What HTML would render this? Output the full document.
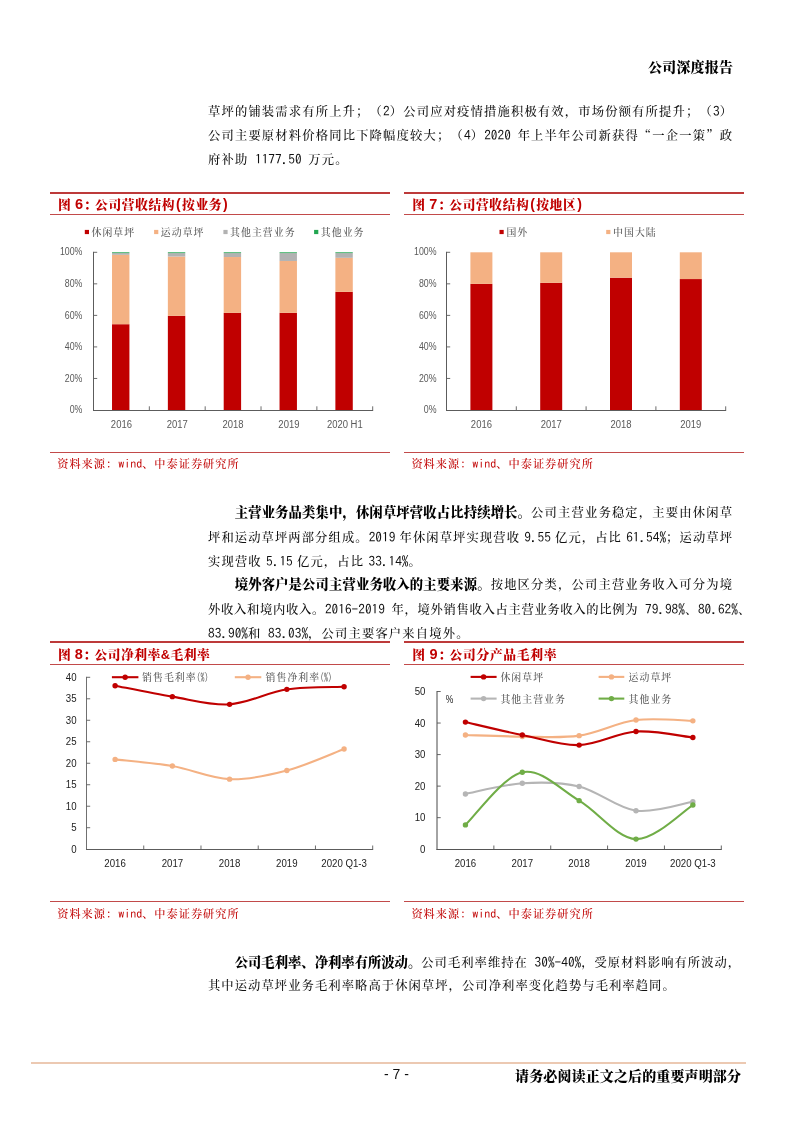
<!DOCTYPE html>
<html lang="zh-CN"><head><meta charset="utf-8"><title>公司深度报告</title>
<style>
html,body{margin:0;padding:0;background:#fff;}
body{width:793px;height:1122px;position:relative;overflow:hidden;font-family:"Liberation Serif", "Noto Serif CJK SC", serif;color:#1a1a1a;}
.n{font-family:"IPAGothic", "Liberation Mono", monospace;font-size:13.33px;letter-spacing:0;}
.c{font-family:"Noto Serif CJK SC",serif;}
.l{position:absolute;left:208px;width:525px;height:24px;line-height:24px;font-size:12.3px;letter-spacing:1.03px;white-space:nowrap;text-align:justify;text-align-last:justify;font-weight:500;color:#111;text-spacing-trim:space-all;}
.l.s{text-align:left;text-align-last:left;width:auto;letter-spacing:1.16px;}
.l b{font-family:"Liberation Sans", "Noto Serif CJK SC", serif;font-weight:900;color:#000;font-size:13.33px;letter-spacing:0;}
.hdr{position:absolute;left:648px;width:85px;top:57px;height:20px;line-height:20px;font-size:14px;font-weight:900;font-family:"Liberation Sans", "Noto Serif CJK SC", serif;color:#000;white-space:nowrap;text-align:justify;text-align-last:justify;}
.rule{position:absolute;background:#c23337;}
.ft{position:absolute;text-align:justify;text-align-last:justify;font-weight:900;font-family:"Liberation Sans", "Noto Serif CJK SC", serif;color:#c00000;font-size:12.8px;line-height:20px;height:20px;white-space:nowrap;}
.ft{word-spacing:-0.5px;}
.ft .q{margin-right:-2px;}
.ft .d{font-size:14.5px;line-height:1;}
.ft .p{font-size:14px;line-height:1;margin:0 0.8px;}
.src{position:absolute;color:#c00000;font-size:11.2px;font-weight:500;line-height:18px;height:18px;white-space:nowrap;letter-spacing:1px;}
.src .n{font-size:12px;letter-spacing:0;}
.foot{position:absolute;left:515px;width:226px;top:1066px;height:20px;line-height:20px;font-size:14px;font-weight:900;font-family:"Liberation Sans", "Noto Serif CJK SC", serif;color:#000;white-space:nowrap;text-align:justify;text-align-last:justify;}
.pg{position:absolute;left:375.5px;width:42px;top:1065px;height:18px;line-height:18px;font-size:14px;font-family:"Liberation Sans", sans-serif;color:#111;text-align:center;white-space:nowrap;}
svg{position:absolute;left:0;top:0;}
svg text{font-family:"Liberation Sans", sans-serif;}
svg text.k{font-family:"Liberation Serif", "Noto Serif CJK SC", serif;letter-spacing:1.05px;font-weight:500;}
svg text.k tspan{letter-spacing:0;}
</style></head>
<body>
<div class="hdr">公司深度报告</div>
<div class="l" style="top:98.5px;">草坪的铺装需求有所上升；（<span class="n">2</span>）公司应对疫情措施积极有效，市场份额有所提升；（<span class="n">3</span>）</div>
<div class="l" style="top:122.5px;">公司主要原材料价格同比下降幅度较大；（<span class="n">4</span>）<span class="n">2020 </span>年上半年公司新获得<span class="c">“</span>一企一策<span class="c">”</span>政</div>
<div class="l s" style="top:146.5px;">府补助<span class="n"> 1177.50 </span>万元。</div>
<div class="l" style="top:500.5px;left:234.7px;width:498.3px;"><b>主营业务品类集中，休闲草坪营收占比持续增长。</b>公司主营业务稳定，主要由休闲草</div>
<div class="l" style="top:524.5px;">坪和运动草坪两部分组成。<span class="n">2019</span> 年休闲草坪实现营收 <span class="n">9.55</span> 亿元，占比 <span class="n">61.54%</span>；运动草坪</div>
<div class="l s" style="top:548.5px;">实现营收 <span class="n">5.15</span> 亿元，占比 <span class="n">33.14%</span>。</div>
<div class="l" style="top:572.5px;left:234.7px;width:498.3px;"><b>境外客户是公司主营业务收入的主要来源。</b>按地区分类，公司主营业务收入可分为境</div>
<div class="l" style="top:596.5px;width:538px;text-align-last:left;letter-spacing:0.69px;">外收入和境内收入。<span class="n">2016-2019 </span>年，境外销售收入占主营业务收入的比例为<span class="n"> 79.98%</span>、<span class="n">80.62%</span>、</div>
<div class="l s" style="top:620.5px;"><span class="n">83.90%</span>和<span class="n"> 83.03%</span>，公司主要客户来自境外。</div>
<div class="l" style="top:950.0px;left:234.7px;width:498.3px;"><b>公司毛利率、净利率有所波动。</b>公司毛利率维持在<span class="n"> 30%-40%</span>，受原材料影响有所波动，</div>
<div class="l s" style="top:974.0px;letter-spacing:1.07px;">其中运动草坪业务毛利率略高于休闲草坪，公司净利率变化趋势与毛利率趋同。</div>
<div class="rule" style="left:50.0px;width:339.6px;top:192px;height:2px;background:#bd3a3a;"></div>
<div class="rule" style="left:50.0px;width:339.6px;top:214px;height:1px;background:#c24a4a;"></div>
<div class="ft" style="left:58.1px;top:194.5px;width:170.3px;">图 <span class="d">6</span><span class="q">：</span>公司营收结构<span class="p">(</span>按业务<span class="p">)</span></div>
<div class="rule" style="left:50.0px;width:339.6px;top:452px;height:1px;background:#c24a4a;"></div>
<div class="src" style="left:57.2px;top:453.9px;">资料来源：<span class="n">wind</span>、中泰证券研究所</div>
<div class="rule" style="left:404.2px;width:339.6px;top:192px;height:2px;background:#bd3a3a;"></div>
<div class="rule" style="left:404.2px;width:339.6px;top:214px;height:1px;background:#c24a4a;"></div>
<div class="ft" style="left:412.3px;top:194.5px;width:170.3px;">图 <span class="d">7</span><span class="q">：</span>公司营收结构<span class="p">(</span>按地区<span class="p">)</span></div>
<div class="rule" style="left:404.2px;width:339.6px;top:452px;height:1px;background:#c24a4a;"></div>
<div class="src" style="left:411.4px;top:453.9px;">资料来源：<span class="n">wind</span>、中泰证券研究所</div>
<div class="rule" style="left:50.0px;width:339.6px;top:641px;height:2px;background:#bd3a3a;"></div>
<div class="rule" style="left:50.0px;width:339.6px;top:664px;height:1px;background:#c24a4a;"></div>
<div class="ft" style="left:58.1px;top:644.5px;width:151.6px;">图 <span class="d">8</span><span class="q">：</span>公司净利率&amp;毛利率</div>
<div class="rule" style="left:50.0px;width:339.6px;top:901px;height:1px;background:#c24a4a;"></div>
<div class="src" style="left:57.2px;top:903.9px;">资料来源：<span class="n">wind</span>、中泰证券研究所</div>
<div class="rule" style="left:404.2px;width:339.6px;top:641px;height:2px;background:#bd3a3a;"></div>
<div class="rule" style="left:404.2px;width:339.6px;top:664px;height:1px;background:#c24a4a;"></div>
<div class="ft" style="left:412.3px;top:644.5px;width:144.2px;">图 <span class="d">9</span><span class="q">：</span>公司分产品毛利率</div>
<div class="rule" style="left:404.2px;width:339.6px;top:901px;height:1px;background:#c24a4a;"></div>
<div class="src" style="left:411.4px;top:903.9px;">资料来源：<span class="n">wind</span>、中泰证券研究所</div>
<svg width="793" height="1122" viewBox="0 0 793 1122">
<rect x="112.02" y="324.21" width="17.40" height="85.79" fill="#c00000"/>
<rect x="112.02" y="254.82" width="17.40" height="69.39" fill="#f4b183"/>
<rect x="112.02" y="253.09" width="17.40" height="1.73" fill="#b2b2b2"/>
<rect x="112.02" y="252.30" width="17.40" height="0.79" fill="#22a651"/>
<text transform="translate(121.4,427.5) scale(0.93,1)" font-size="10.2" fill="#595959" text-anchor="middle">2016</text>
<rect x="167.86" y="315.85" width="17.40" height="94.15" fill="#c00000"/>
<rect x="167.86" y="256.56" width="17.40" height="59.30" fill="#f4b183"/>
<rect x="167.86" y="253.09" width="17.40" height="3.47" fill="#b2b2b2"/>
<rect x="167.86" y="252.30" width="17.40" height="0.79" fill="#22a651"/>
<text transform="translate(177.3,427.5) scale(0.93,1)" font-size="10.2" fill="#595959" text-anchor="middle">2017</text>
<rect x="223.70" y="312.86" width="17.40" height="97.14" fill="#c00000"/>
<rect x="223.70" y="257.03" width="17.40" height="55.83" fill="#f4b183"/>
<rect x="223.70" y="253.09" width="17.40" height="3.94" fill="#b2b2b2"/>
<rect x="223.70" y="252.30" width="17.40" height="0.79" fill="#22a651"/>
<text transform="translate(233.1,427.5) scale(0.93,1)" font-size="10.2" fill="#595959" text-anchor="middle">2018</text>
<rect x="279.54" y="312.86" width="17.40" height="97.14" fill="#c00000"/>
<rect x="279.54" y="260.97" width="17.40" height="51.88" fill="#f4b183"/>
<rect x="279.54" y="253.09" width="17.40" height="7.88" fill="#b2b2b2"/>
<rect x="279.54" y="252.30" width="17.40" height="0.79" fill="#22a651"/>
<text transform="translate(288.9,427.5) scale(0.93,1)" font-size="10.2" fill="#595959" text-anchor="middle">2019</text>
<rect x="335.38" y="291.88" width="17.40" height="118.12" fill="#c00000"/>
<rect x="335.38" y="257.82" width="17.40" height="34.06" fill="#f4b183"/>
<rect x="335.38" y="253.09" width="17.40" height="4.73" fill="#b2b2b2"/>
<rect x="335.38" y="252.30" width="17.40" height="0.79" fill="#22a651"/>
<text transform="translate(344.8,427.5) scale(0.93,1)" font-size="10.2" fill="#595959" text-anchor="middle">2020 H1</text>
<line x1="93.50" y1="251.80" x2="93.50" y2="411.00" stroke="#5c5c5c" stroke-width="1"/>
<line x1="93.00" y1="410.50" x2="373.20" y2="410.50" stroke="#5c5c5c" stroke-width="1"/>
<text transform="translate(82.4,413.1) scale(0.865,1)" font-size="10.2" fill="#595959" text-anchor="end">0%</text>
<line x1="93.50" y1="378.46" x2="97.20" y2="378.46" stroke="#5c5c5c" stroke-width="0.9"/>
<text transform="translate(82.4,381.6) scale(0.865,1)" font-size="10.2" fill="#595959" text-anchor="end">20%</text>
<line x1="93.50" y1="346.92" x2="97.20" y2="346.92" stroke="#5c5c5c" stroke-width="0.9"/>
<text transform="translate(82.4,350.0) scale(0.865,1)" font-size="10.2" fill="#595959" text-anchor="end">40%</text>
<line x1="93.50" y1="315.38" x2="97.20" y2="315.38" stroke="#5c5c5c" stroke-width="0.9"/>
<text transform="translate(82.4,318.5) scale(0.865,1)" font-size="10.2" fill="#595959" text-anchor="end">60%</text>
<line x1="93.50" y1="283.84" x2="97.20" y2="283.84" stroke="#5c5c5c" stroke-width="0.9"/>
<text transform="translate(82.4,286.9) scale(0.865,1)" font-size="10.2" fill="#595959" text-anchor="end">80%</text>
<line x1="93.50" y1="252.30" x2="97.20" y2="252.30" stroke="#5c5c5c" stroke-width="0.9"/>
<text transform="translate(82.4,255.4) scale(0.865,1)" font-size="10.2" fill="#595959" text-anchor="end">100%</text>
<line x1="149.34" y1="406.30" x2="149.34" y2="410.00" stroke="#5c5c5c" stroke-width="0.9"/>
<line x1="205.18" y1="406.30" x2="205.18" y2="410.00" stroke="#5c5c5c" stroke-width="0.9"/>
<line x1="261.02" y1="406.30" x2="261.02" y2="410.00" stroke="#5c5c5c" stroke-width="0.9"/>
<line x1="316.86" y1="406.30" x2="316.86" y2="410.00" stroke="#5c5c5c" stroke-width="0.9"/>
<line x1="372.70" y1="406.30" x2="372.70" y2="410.00" stroke="#5c5c5c" stroke-width="0.9"/>
<rect x="84.80" y="229.90" width="4.20" height="4.20" fill="#c00000"/>
<text x="91.5" y="235.8" font-size="9.9" fill="#595959" text-anchor="start" class="k">休闲草坪</text>
<rect x="154.10" y="229.90" width="4.20" height="4.20" fill="#f4b183"/>
<text x="160.8" y="235.8" font-size="9.9" fill="#595959" text-anchor="start" class="k">运动草坪</text>
<rect x="223.40" y="229.90" width="4.20" height="4.20" fill="#b2b2b2"/>
<text x="230.1" y="235.8" font-size="9.9" fill="#595959" text-anchor="start" class="k">其他主营业务</text>
<rect x="314.10" y="229.90" width="4.20" height="4.20" fill="#22a651"/>
<text x="320.8" y="235.8" font-size="9.9" fill="#595959" text-anchor="start" class="k">其他业务</text>
<rect x="470.40" y="283.87" width="22.00" height="126.13" fill="#c00000"/>
<rect x="470.40" y="252.30" width="22.00" height="31.57" fill="#f4b183"/>
<text transform="translate(481.4,427.5) scale(0.93,1)" font-size="10.2" fill="#595959" text-anchor="middle">2016</text>
<rect x="540.20" y="282.86" width="22.00" height="127.14" fill="#c00000"/>
<rect x="540.20" y="252.30" width="22.00" height="30.56" fill="#f4b183"/>
<text transform="translate(551.2,427.5) scale(0.93,1)" font-size="10.2" fill="#595959" text-anchor="middle">2017</text>
<rect x="610.00" y="277.69" width="22.00" height="132.31" fill="#c00000"/>
<rect x="610.00" y="252.30" width="22.00" height="25.39" fill="#f4b183"/>
<text transform="translate(621.0,427.5) scale(0.93,1)" font-size="10.2" fill="#595959" text-anchor="middle">2018</text>
<rect x="679.80" y="279.06" width="22.00" height="130.94" fill="#c00000"/>
<rect x="679.80" y="252.30" width="22.00" height="26.76" fill="#f4b183"/>
<text transform="translate(690.8,427.5) scale(0.93,1)" font-size="10.2" fill="#595959" text-anchor="middle">2019</text>
<line x1="446.50" y1="251.80" x2="446.50" y2="411.00" stroke="#5c5c5c" stroke-width="1"/>
<line x1="446.00" y1="410.50" x2="726.20" y2="410.50" stroke="#5c5c5c" stroke-width="1"/>
<text transform="translate(436.6,413.1) scale(0.865,1)" font-size="10.2" fill="#595959" text-anchor="end">0%</text>
<line x1="446.50" y1="378.46" x2="450.20" y2="378.46" stroke="#5c5c5c" stroke-width="0.9"/>
<text transform="translate(436.6,381.6) scale(0.865,1)" font-size="10.2" fill="#595959" text-anchor="end">20%</text>
<line x1="446.50" y1="346.92" x2="450.20" y2="346.92" stroke="#5c5c5c" stroke-width="0.9"/>
<text transform="translate(436.6,350.0) scale(0.865,1)" font-size="10.2" fill="#595959" text-anchor="end">40%</text>
<line x1="446.50" y1="315.38" x2="450.20" y2="315.38" stroke="#5c5c5c" stroke-width="0.9"/>
<text transform="translate(436.6,318.5) scale(0.865,1)" font-size="10.2" fill="#595959" text-anchor="end">60%</text>
<line x1="446.50" y1="283.84" x2="450.20" y2="283.84" stroke="#5c5c5c" stroke-width="0.9"/>
<text transform="translate(436.6,286.9) scale(0.865,1)" font-size="10.2" fill="#595959" text-anchor="end">80%</text>
<line x1="446.50" y1="252.30" x2="450.20" y2="252.30" stroke="#5c5c5c" stroke-width="0.9"/>
<text transform="translate(436.6,255.4) scale(0.865,1)" font-size="10.2" fill="#595959" text-anchor="end">100%</text>
<line x1="516.30" y1="406.30" x2="516.30" y2="410.00" stroke="#5c5c5c" stroke-width="0.9"/>
<line x1="586.10" y1="406.30" x2="586.10" y2="410.00" stroke="#5c5c5c" stroke-width="0.9"/>
<line x1="655.90" y1="406.30" x2="655.90" y2="410.00" stroke="#5c5c5c" stroke-width="0.9"/>
<line x1="725.70" y1="406.30" x2="725.70" y2="410.00" stroke="#5c5c5c" stroke-width="0.9"/>
<rect x="499.50" y="229.90" width="4.20" height="4.20" fill="#c00000"/>
<text x="506.4" y="235.8" font-size="9.9" fill="#595959" text-anchor="start" class="k">国外</text>
<rect x="606.20" y="229.90" width="4.20" height="4.20" fill="#f4b183"/>
<text x="613.1" y="235.8" font-size="9.9" fill="#595959" text-anchor="start" class="k">中国大陆</text>
<line x1="86.50" y1="676.80" x2="86.50" y2="850.00" stroke="#707070" stroke-width="1"/>
<line x1="86.00" y1="849.50" x2="373.20" y2="849.50" stroke="#5c5c5c" stroke-width="1"/>
<text transform="translate(76.6,852.5) scale(0.93,1)" font-size="10.4" fill="#222" text-anchor="end">0</text>
<line x1="86.50" y1="827.71" x2="90.20" y2="827.71" stroke="#5c5c5c" stroke-width="0.9"/>
<text transform="translate(76.6,831.0) scale(0.93,1)" font-size="10.4" fill="#222" text-anchor="end">5</text>
<line x1="86.50" y1="806.23" x2="90.20" y2="806.23" stroke="#5c5c5c" stroke-width="0.9"/>
<text transform="translate(76.6,809.5) scale(0.93,1)" font-size="10.4" fill="#222" text-anchor="end">10</text>
<line x1="86.50" y1="784.74" x2="90.20" y2="784.74" stroke="#5c5c5c" stroke-width="0.9"/>
<text transform="translate(76.6,788.0) scale(0.93,1)" font-size="10.4" fill="#222" text-anchor="end">15</text>
<line x1="86.50" y1="763.25" x2="90.20" y2="763.25" stroke="#5c5c5c" stroke-width="0.9"/>
<text transform="translate(76.6,766.5) scale(0.93,1)" font-size="10.4" fill="#222" text-anchor="end">20</text>
<line x1="86.50" y1="741.76" x2="90.20" y2="741.76" stroke="#5c5c5c" stroke-width="0.9"/>
<text transform="translate(76.6,745.1) scale(0.93,1)" font-size="10.4" fill="#222" text-anchor="end">25</text>
<line x1="86.50" y1="720.27" x2="90.20" y2="720.27" stroke="#5c5c5c" stroke-width="0.9"/>
<text transform="translate(76.6,723.6) scale(0.93,1)" font-size="10.4" fill="#222" text-anchor="end">30</text>
<line x1="86.50" y1="698.79" x2="90.20" y2="698.79" stroke="#5c5c5c" stroke-width="0.9"/>
<text transform="translate(76.6,702.1) scale(0.93,1)" font-size="10.4" fill="#222" text-anchor="end">35</text>
<line x1="86.50" y1="677.30" x2="90.20" y2="677.30" stroke="#5c5c5c" stroke-width="0.9"/>
<text transform="translate(76.6,680.6) scale(0.93,1)" font-size="10.4" fill="#222" text-anchor="end">40</text>
<line x1="143.74" y1="845.50" x2="143.74" y2="849.20" stroke="#5c5c5c" stroke-width="0.9"/>
<line x1="200.98" y1="845.50" x2="200.98" y2="849.20" stroke="#5c5c5c" stroke-width="0.9"/>
<line x1="258.22" y1="845.50" x2="258.22" y2="849.20" stroke="#5c5c5c" stroke-width="0.9"/>
<line x1="315.46" y1="845.50" x2="315.46" y2="849.20" stroke="#5c5c5c" stroke-width="0.9"/>
<line x1="372.70" y1="845.50" x2="372.70" y2="849.20" stroke="#5c5c5c" stroke-width="0.9"/>
<text transform="translate(115.1,867.1) scale(0.93,1)" font-size="10.4" fill="#222" text-anchor="middle">2016</text>
<text transform="translate(172.4,867.1) scale(0.93,1)" font-size="10.4" fill="#222" text-anchor="middle">2017</text>
<text transform="translate(229.6,867.1) scale(0.93,1)" font-size="10.4" fill="#222" text-anchor="middle">2018</text>
<text transform="translate(286.8,867.1) scale(0.93,1)" font-size="10.4" fill="#222" text-anchor="middle">2019</text>
<text transform="translate(344.1,867.1) scale(0.93,1)" font-size="10.4" fill="#222" text-anchor="middle">2020 Q1-3</text>
<path d="M115.12,759.38 C124.66,760.49 153.28,762.75 172.36,766.04 C191.44,769.34 210.52,778.40 229.60,779.15 C248.68,779.90 267.76,775.57 286.84,770.56 C305.92,765.54 334.54,752.65 344.08,749.07" fill="none" stroke="#f4b183" stroke-width="2.1" stroke-linecap="round" stroke-linejoin="round"/>
<circle cx="115.12" cy="759.38" r="2.7" fill="#f4b183"/>
<circle cx="172.36" cy="766.04" r="2.7" fill="#f4b183"/>
<circle cx="229.60" cy="779.15" r="2.7" fill="#f4b183"/>
<circle cx="286.84" cy="770.56" r="2.7" fill="#f4b183"/>
<circle cx="344.08" cy="749.07" r="2.7" fill="#f4b183"/>
<path d="M115.12,685.68 C124.66,687.51 153.28,693.52 172.36,696.64 C191.44,699.75 210.52,705.59 229.60,704.37 C248.68,703.16 267.76,692.27 286.84,689.33 C305.92,686.40 334.54,687.18 344.08,686.75" fill="none" stroke="#c00000" stroke-width="2.1" stroke-linecap="round" stroke-linejoin="round"/>
<circle cx="115.12" cy="685.68" r="2.7" fill="#c00000"/>
<circle cx="172.36" cy="696.64" r="2.7" fill="#c00000"/>
<circle cx="229.60" cy="704.37" r="2.7" fill="#c00000"/>
<circle cx="286.84" cy="689.33" r="2.7" fill="#c00000"/>
<circle cx="344.08" cy="686.75" r="2.7" fill="#c00000"/>
<line x1="111.90" y1="677.20" x2="138.40" y2="677.20" stroke="#c00000" stroke-width="2.1"/>
<circle cx="125.15" cy="677.20" r="2.7" fill="#c00000"/>
<text x="142.1" y="681.0" font-size="9.9" fill="#595959" text-anchor="start" class="k">销售毛利率</text>
<text transform="translate(196.6,680.6) scale(0.76,1)" font-size="10.5" fill="#595959" style="font-family:IPAGothic,monospace">(%)</text>
<text transform="translate(320.1,680.6) scale(0.76,1)" font-size="10.5" fill="#595959" style="font-family:IPAGothic,monospace">(%)</text>
<line x1="234.80" y1="677.20" x2="261.30" y2="677.20" stroke="#f4b183" stroke-width="2.1"/>
<circle cx="248.05" cy="677.20" r="2.7" fill="#f4b183"/>
<text x="265.6" y="681.0" font-size="9.9" fill="#595959" text-anchor="start" class="k">销售净利率</text>
<line x1="437.00" y1="691.00" x2="437.00" y2="850.00" stroke="#484848" stroke-width="1"/>
<line x1="436.50" y1="849.50" x2="721.80" y2="849.50" stroke="#555555" stroke-width="1"/>
<text transform="translate(425.5,852.8) scale(0.93,1)" font-size="10.4" fill="#222" text-anchor="end">0</text>
<line x1="437.00" y1="817.66" x2="440.70" y2="817.66" stroke="#555555" stroke-width="0.9"/>
<text transform="translate(425.5,821.3) scale(0.93,1)" font-size="10.4" fill="#222" text-anchor="end">10</text>
<line x1="437.00" y1="786.12" x2="440.70" y2="786.12" stroke="#555555" stroke-width="0.9"/>
<text transform="translate(425.5,789.7) scale(0.93,1)" font-size="10.4" fill="#222" text-anchor="end">20</text>
<line x1="437.00" y1="754.58" x2="440.70" y2="754.58" stroke="#555555" stroke-width="0.9"/>
<text transform="translate(425.5,758.2) scale(0.93,1)" font-size="10.4" fill="#222" text-anchor="end">30</text>
<line x1="437.00" y1="723.04" x2="440.70" y2="723.04" stroke="#555555" stroke-width="0.9"/>
<text transform="translate(425.5,726.6) scale(0.93,1)" font-size="10.4" fill="#222" text-anchor="end">40</text>
<line x1="437.00" y1="691.50" x2="440.70" y2="691.50" stroke="#555555" stroke-width="0.9"/>
<text transform="translate(425.5,695.1) scale(0.93,1)" font-size="10.4" fill="#222" text-anchor="end">50</text>
<line x1="493.86" y1="845.50" x2="493.86" y2="849.20" stroke="#555555" stroke-width="0.9"/>
<line x1="550.72" y1="845.50" x2="550.72" y2="849.20" stroke="#555555" stroke-width="0.9"/>
<line x1="607.58" y1="845.50" x2="607.58" y2="849.20" stroke="#555555" stroke-width="0.9"/>
<line x1="664.44" y1="845.50" x2="664.44" y2="849.20" stroke="#555555" stroke-width="0.9"/>
<line x1="721.30" y1="845.50" x2="721.30" y2="849.20" stroke="#555555" stroke-width="0.9"/>
<text transform="translate(465.4,867.1) scale(0.93,1)" font-size="10.4" fill="#222" text-anchor="middle">2016</text>
<text transform="translate(522.3,867.1) scale(0.93,1)" font-size="10.4" fill="#222" text-anchor="middle">2017</text>
<text transform="translate(579.1,867.1) scale(0.93,1)" font-size="10.4" fill="#222" text-anchor="middle">2018</text>
<text transform="translate(636.0,867.1) scale(0.93,1)" font-size="10.4" fill="#222" text-anchor="middle">2019</text>
<text transform="translate(692.9,867.1) scale(0.93,1)" font-size="10.4" fill="#222" text-anchor="middle">2020 Q1-3</text>
<text transform="translate(445.8,703.3) scale(0.82,1)" font-size="10.4" fill="#222" text-anchor="start">%</text>
<path d="M465.43,794.00 C474.91,792.22 503.34,784.54 522.29,783.28 C541.24,782.02 560.20,781.86 579.15,786.44 C598.10,791.01 617.06,808.17 636.01,810.72 C654.96,813.27 683.39,803.23 692.87,801.73" fill="none" stroke="#b5b5b5" stroke-width="2.1" stroke-linecap="round" stroke-linejoin="round"/>
<circle cx="465.43" cy="794.00" r="2.7" fill="#b5b5b5"/>
<circle cx="522.29" cy="783.28" r="2.7" fill="#b5b5b5"/>
<circle cx="579.15" cy="786.44" r="2.7" fill="#b5b5b5"/>
<circle cx="636.01" cy="810.72" r="2.7" fill="#b5b5b5"/>
<circle cx="692.87" cy="801.73" r="2.7" fill="#b5b5b5"/>
<path d="M465.43,824.91 C474.91,816.14 503.34,776.29 522.29,772.24 C541.24,768.19 560.20,789.48 579.15,800.63 C598.10,811.77 617.06,838.37 636.01,839.11 C654.96,839.84 683.39,810.72 692.87,805.04" fill="none" stroke="#70ad47" stroke-width="2.1" stroke-linecap="round" stroke-linejoin="round"/>
<circle cx="465.43" cy="824.91" r="2.7" fill="#70ad47"/>
<circle cx="522.29" cy="772.24" r="2.7" fill="#70ad47"/>
<circle cx="579.15" cy="800.63" r="2.7" fill="#70ad47"/>
<circle cx="636.01" cy="839.11" r="2.7" fill="#70ad47"/>
<circle cx="692.87" cy="805.04" r="2.7" fill="#70ad47"/>
<path d="M465.43,735.03 C474.91,735.29 503.34,736.50 522.29,736.60 C541.24,736.71 560.20,738.42 579.15,735.66 C598.10,732.90 617.06,722.51 636.01,720.04 C654.96,717.57 683.39,720.70 692.87,720.83" fill="none" stroke="#f4b183" stroke-width="2.1" stroke-linecap="round" stroke-linejoin="round"/>
<circle cx="465.43" cy="735.03" r="2.7" fill="#f4b183"/>
<circle cx="522.29" cy="736.60" r="2.7" fill="#f4b183"/>
<circle cx="579.15" cy="735.66" r="2.7" fill="#f4b183"/>
<circle cx="636.01" cy="720.04" r="2.7" fill="#f4b183"/>
<circle cx="692.87" cy="720.83" r="2.7" fill="#f4b183"/>
<path d="M465.43,722.09 C474.91,724.25 503.34,731.19 522.29,735.03 C541.24,738.86 560.20,745.70 579.15,745.12 C598.10,744.54 617.06,732.82 636.01,731.56 C654.96,730.29 683.39,736.55 692.87,737.55" fill="none" stroke="#c00000" stroke-width="2.1" stroke-linecap="round" stroke-linejoin="round"/>
<circle cx="465.43" cy="722.09" r="2.7" fill="#c00000"/>
<circle cx="522.29" cy="735.03" r="2.7" fill="#c00000"/>
<circle cx="579.15" cy="745.12" r="2.7" fill="#c00000"/>
<circle cx="636.01" cy="731.56" r="2.7" fill="#c00000"/>
<circle cx="692.87" cy="737.55" r="2.7" fill="#c00000"/>
<line x1="470.60" y1="676.90" x2="496.60" y2="676.90" stroke="#c00000" stroke-width="2.1"/>
<circle cx="483.60" cy="676.90" r="2.7" fill="#c00000"/>
<text x="500.4" y="680.7" font-size="9.9" fill="#595959" text-anchor="start" class="k">休闲草坪</text>
<line x1="598.60" y1="676.90" x2="624.30" y2="676.90" stroke="#f4b183" stroke-width="2.1"/>
<circle cx="611.45" cy="676.90" r="2.7" fill="#f4b183"/>
<text x="628.6" y="680.7" font-size="9.9" fill="#595959" text-anchor="start" class="k">运动草坪</text>
<line x1="470.60" y1="698.60" x2="496.60" y2="698.60" stroke="#b5b5b5" stroke-width="2.1"/>
<circle cx="483.60" cy="698.60" r="2.7" fill="#b5b5b5"/>
<text x="500.4" y="703.3" font-size="9.9" fill="#595959" text-anchor="start" class="k">其他主营业务</text>
<line x1="598.60" y1="698.60" x2="624.30" y2="698.60" stroke="#70ad47" stroke-width="2.1"/>
<circle cx="611.45" cy="698.60" r="2.7" fill="#70ad47"/>
<text x="628.6" y="703.3" font-size="9.9" fill="#595959" text-anchor="start" class="k">其他业务</text>
</svg>
<div class="rule" style="left:30.8px;width:715px;top:1062px;height:2px;background:#ecc9b2;"></div>
<div class="pg">- 7 -</div>
<div class="foot">请务必阅读正文之后的重要声明部分</div>
</body></html>
